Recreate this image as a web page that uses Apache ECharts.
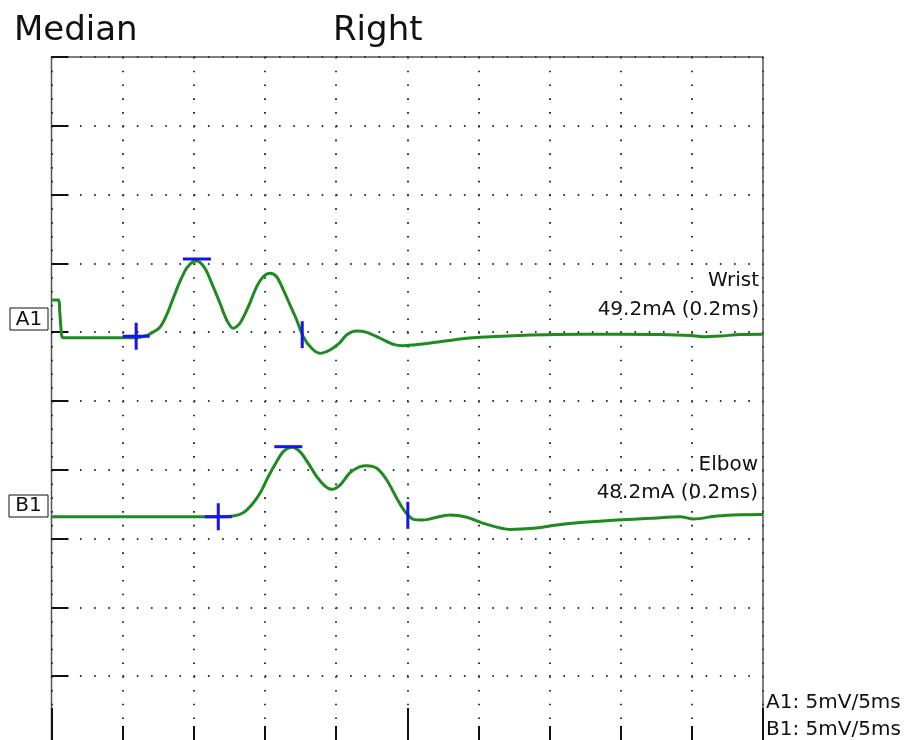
<!DOCTYPE html>
<html>
<head>
<meta charset="utf-8">
<script src="https://cdn.jsdelivr.net/npm/echarts@6/dist/echarts.min.js"></script>
<style>
  html, body { margin: 0; padding: 0; background: #fff; overflow: hidden; }
  /* the scope frame runs a few pixels past the bottom of the window */
  #main { width: 914px; height: 745px; }
</style>
</head>
<body>
<div id="main"></div>
<script>
// time in ms, amplitude in mV relative to each trace's baseline
const timeA1 = [0, 0.48, 0.58, 0.72, 0.86, 5.01, 5.93, 6.42, 6.91, 7.62, 8.09, 8.55, 9.02, 9.49, 9.96, 10.22, 10.78, 11.36, 11.84, 12.31, 12.77, 13.24, 13.83, 14.42, 14.88, 15.35, 15.82, 16.29, 16.76, 17.23, 17.69, 18.28, 18.87, 19.57, 20.27, 20.75, 21.45, 22.15, 23.09, 24.02, 24.73, 25.9, 27.31, 28.71, 30.12, 32.46, 34.81, 37.15, 39.96, 42.78, 44.89, 45.8, 47.0, 48.4, 50];
const ampA1 = [2.74, 2.74, 1.87, 0.12, 0, 0, 0, 0.09, 0.27, 0.76, 1.65, 2.86, 4.07, 5.05, 5.54, 5.58, 5.05, 3.71, 2.5, 1.29, 0.68, 1.05, 2.25, 3.71, 4.43, 4.68, 4.43, 3.47, 2.38, 1.29, 0.07, -0.77, -1.13, -0.89, -0.35, 0.22, 0.49, 0.39, -0.04, -0.48, -0.58, -0.48, -0.29, -0.09, 0.03, 0.15, 0.22, 0.25, 0.25, 0.23, 0.16, 0.07, 0.12, 0.23, 0.25];

const timeB1 = [0, 11.72, 12.77, 13.47, 14.06, 14.65, 15.23, 15.82, 16.29, 16.88, 17.46, 18.05, 18.64, 19.22, 19.69, 20.27, 20.98, 21.68, 22.15, 22.86, 23.56, 24.26, 24.85, 25.43, 26.13, 27.07, 28.01, 29.18, 30.35, 32.23, 33.87, 35.51, 37.38, 39.73, 42.08, 44.18, 45.12, 46.77, 48.4, 50];
const ampB1 = [0, 0, 0.05, 0.29, 0.85, 1.7, 2.91, 4.0, 4.73, 5.05, 4.73, 3.88, 2.91, 2.23, 1.99, 2.3, 3.2, 3.64, 3.71, 3.52, 2.67, 1.34, 0.36, -0.19, -0.24, -0.04, 0.12, -0.04, -0.48, -0.92, -0.84, -0.6, -0.41, -0.24, -0.12, 0, -0.17, 0.05, 0.15, 0.17];

// cursor markers [time, amplitude]
const onsetA1 = [5.95, 0.1];
const peakA1 = [10.22, 5.72];
const endA1 = [17.62, 0.22];
const onsetB1 = [11.72, 0];
const peakB1 = [16.64, 5.09];
const endB1 = [25.04, 0.1];

// baselines on the 0-50 mV screen (10 div x 5 mV)
const baseA1 = 29.6;
const baseB1 = 16.59;

const chart = echarts.init(document.getElementById('main'));

function trace(times, amps, base) {
  return times.map((t, i) => [t, amps[i] + base]);
}
function mark(p, base) {
  return [[p[0], p[1] + base]];
}

const green = '#1f8a1f';
const blue = '#1414ee';
const crossPath = 'path://M0,12H27V15H0Z M12,0H15V27H12Z';
const font = 'DejaVu Sans';

function txt(x, y, s, size, align) {
  return {
    type: 'text',
    style: { x: x, y: y, text: s, fontSize: size, fontFamily: font, fill: '#111', align: align, verticalAlign: 'middle' }
  };
}

let option = {
  animation: false,
  grid: {
    left: 51.5,
    right: 151,
    top: 57,
    bottom: 0,
    show: true,
    borderColor: '#555',
    borderWidth: 1.5
  },
  xAxis: [
    {
      type: 'value',
      min: 0,
      max: 50,
      interval: 5,
      position: 'bottom',
      axisLine: { show: false },
      axisLabel: { show: false },
      axisTick: { show: true, inside: true, length: 19, lineStyle: { color: '#111', width: 2 } },
      splitLine: { show: true, lineStyle: { color: '#333', width: 2, type: [1.6, 12.16] } }
    },
    {
      type: 'value',
      min: 0,
      max: 50,
      interval: 25,
      position: 'bottom',
      axisLine: { show: false },
      axisLabel: { show: false },
      axisTick: { show: true, inside: true, length: 37, lineStyle: { color: '#111', width: 2 } },
      splitLine: { show: false }
    }
  ],
  yAxis: {
    type: 'value',
    min: 0,
    max: 50,
    interval: 5,
    axisLine: { show: false },
    axisLabel: { show: false },
    axisTick: { show: true, inside: true, length: 17, lineStyle: { color: '#111', width: 2 } },
    splitLine: { show: true, lineStyle: { color: '#333', width: 2, type: [1.6, 12.62] } }
  },
  series: [
    {
      name: 'A1', type: 'line', data: trace(timeA1, ampA1, baseA1),
      smooth: 0.3, showSymbol: false, lineStyle: { color: green, width: 3 }, z: 3
    },
    {
      name: 'B1', type: 'line', data: trace(timeB1, ampB1, baseB1),
      smooth: 0.3, showSymbol: false, lineStyle: { color: green, width: 3 }, z: 3
    },
    { type: 'scatter', data: mark(onsetA1, baseA1).concat(mark(onsetB1, baseB1)), symbol: crossPath, symbolSize: [27, 27], itemStyle: { color: blue, opacity: 1 }, z: 4 },
    { type: 'scatter', data: mark(peakA1, baseA1).concat(mark(peakB1, baseB1)), symbol: 'rect', symbolSize: [28, 3], itemStyle: { color: blue, opacity: 1 }, z: 4 },
    { type: 'scatter', data: mark(endA1, baseA1).concat(mark(endB1, baseB1)), symbol: 'rect', symbolSize: [3, 27], itemStyle: { color: blue, opacity: 1 }, z: 4 }
  ],
  graphic: [
    txt(14, 31, 'Median', 34, 'left'),
    txt(333, 31, 'Right', 34, 'left'),
    { type: 'rect', shape: { x: 10, y: 308, width: 38, height: 22 }, style: { fill: '#fff', stroke: '#111', lineWidth: 1 } },
    txt(29, 319.5, 'A1', 20, 'center'),
    { type: 'rect', shape: { x: 9, y: 495, width: 39, height: 22 }, style: { fill: '#fff', stroke: '#111', lineWidth: 1 } },
    txt(28.5, 506, 'B1', 20, 'center'),
    txt(759, 281, 'Wrist', 20, 'right'),
    txt(759, 310, '49.2mA (0.2ms)', 20, 'right'),
    txt(758, 465, 'Elbow', 20, 'right'),
    txt(758, 493, '48.2mA (0.2ms)', 20, 'right'),
    txt(766, 703, 'A1: 5mV/5ms', 20, 'left'),
    txt(766, 730, 'B1: 5mV/5ms', 20, 'left')
  ]
};
chart.setOption(option);
</script>
</body>
</html>
